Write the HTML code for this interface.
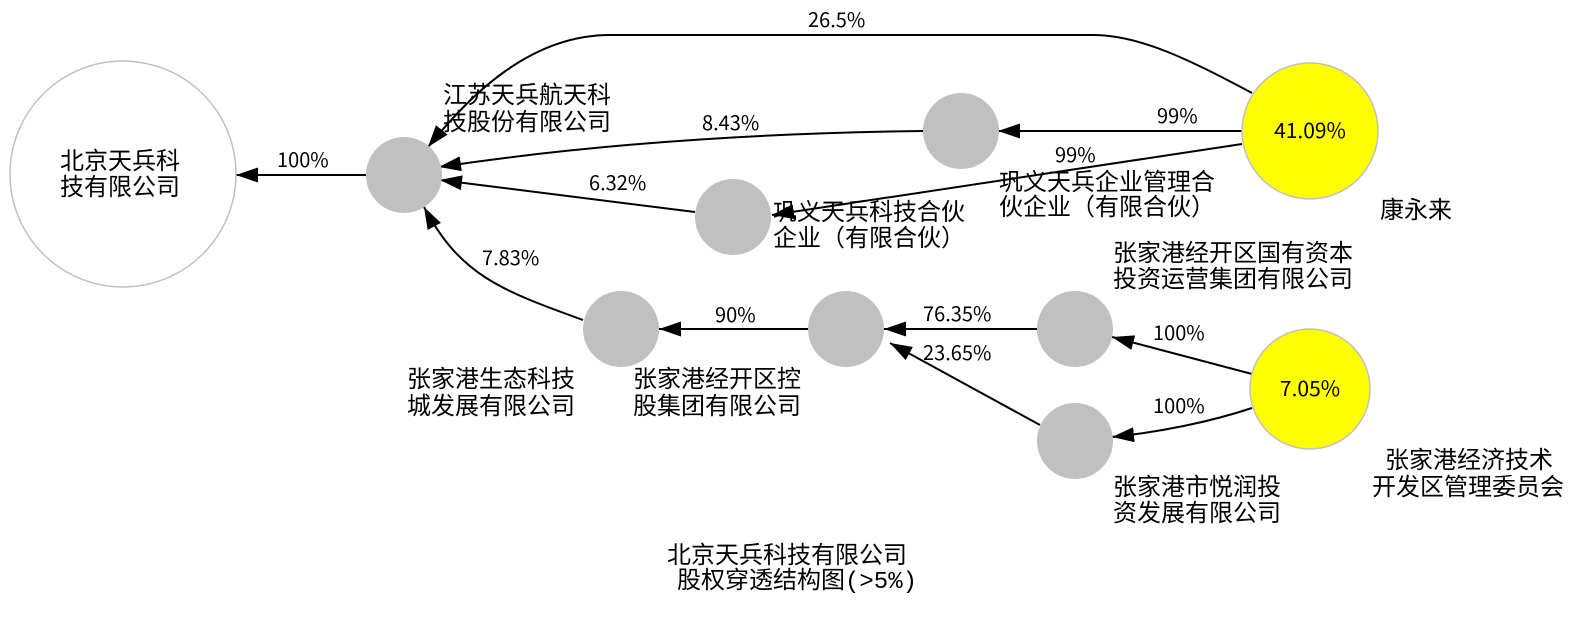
<!DOCTYPE html>
<html><head><meta charset="utf-8"><style>
html,body{margin:0;padding:0;background:#fff;}
svg text{font-family:"Liberation Mono","WenQuanYi Zen Hei","Noto Sans CJK SC",monospace;fill:#000;}
svg g.p text{font-family:"WenQuanYi Zen Hei","Noto Sans CJK SC",sans-serif;}
</style></head><body>
<svg width="1581" height="613" viewBox="0 0 1581 613" xmlns="http://www.w3.org/2000/svg">
<defs><marker id="a" markerWidth="22" markerHeight="15" refX="22" refY="7.5" orient="auto" markerUnits="userSpaceOnUse" viewBox="0 0 22 15"><path d="M0,0 L22,7.5 L0,15 z" fill="#000"/></marker></defs>
<g stroke="#000" stroke-width="2" fill="none">
<line x1="366" y1="175" x2="236" y2="175" marker-end="url(#a)"/>
<path d="M1252,93 C1190,60 1140,35 1093,35 L610,35 C530,35 470,95 428,147" marker-end="url(#a)"/>
<line x1="1242" y1="131" x2="998" y2="131" marker-end="url(#a)"/>
<path d="M923,131 C760,133 600,143 439,167" marker-end="url(#a)"/>
<line x1="1242" y1="144" x2="772" y2="215" marker-end="url(#a)"/>
<line x1="695" y1="212" x2="440" y2="180" marker-end="url(#a)"/>
<path d="M583,320 C500,290 460,275 424,207" marker-end="url(#a)"/>
<line x1="808" y1="329" x2="659" y2="329" marker-end="url(#a)"/>
<line x1="1037" y1="329" x2="884" y2="329" marker-end="url(#a)"/>
<line x1="1040" y1="425" x2="890" y2="343" marker-end="url(#a)"/>
<line x1="1252" y1="374" x2="1112" y2="337" marker-end="url(#a)"/>
<path d="M1252,408 C1210,422 1160,432 1112,437" marker-end="url(#a)"/>
</g>
<g>
<circle cx="123" cy="174" r="113" fill="#fff" stroke="#c0c0c0" stroke-width="1.5"/>
<circle cx="404" cy="175" r="38" fill="#c0c0c0"/>
<circle cx="961" cy="131" r="38" fill="#c0c0c0"/>
<circle cx="733" cy="217" r="38" fill="#c0c0c0"/>
<circle cx="621" cy="329" r="38" fill="#c0c0c0"/>
<circle cx="846" cy="329" r="38" fill="#c0c0c0"/>
<circle cx="1075" cy="329" r="38" fill="#c0c0c0"/>
<circle cx="1075" cy="441" r="38" fill="#c0c0c0"/>
<circle cx="1310" cy="131" r="68" fill="#ffff00" stroke="#c0c0c0" stroke-width="1.5"/>
<circle cx="1310" cy="389" r="60" fill="#ffff00" stroke="#c0c0c0" stroke-width="1.5"/>
</g>
<g font-size="24">
<text x="60" y="169">北京天兵科</text>
<text x="60" y="195">技有限公司</text>
<text x="443" y="103">江苏天兵航天科</text>
<text x="443" y="130">技股份有限公司</text>
<text x="773" y="220">巩义天兵科技合伙</text>
<text x="773" y="246">企业（有限合伙）</text>
<text x="999" y="190">巩义天兵企业管理合</text>
<text x="999" y="215">伙企业（有限合伙）</text>
<text x="1380" y="218">康永来</text>
<text x="1113" y="261">张家港经开区国有资本</text>
<text x="1113" y="287">投资运营集团有限公司</text>
<text x="407" y="387">张家港生态科技</text>
<text x="407" y="414">城发展有限公司</text>
<text x="633" y="387">张家港经开区控</text>
<text x="633" y="414">股集团有限公司</text>
<text x="1113" y="495">张家港市悦润投</text>
<text x="1113" y="521">资发展有限公司</text>
<text x="1385" y="468">张家港经济技术</text>
<text x="1372" y="495">开发区管理委员会</text>
<text x="667" y="563">北京天兵科技有限公司</text>
<text x="677" y="588">股权穿透结构图(&gt;5%)</text>
</g>
<g class="p" font-size="21" text-anchor="middle">
<text x="1310" y="138">41.09%</text>
<text x="1310" y="396">7.05%</text>
</g>
<g class="p" font-size="20">
<text x="277" y="167">100%</text>
<text x="808" y="27">26.5%</text>
<text x="1157" y="123">99%</text>
<text x="702" y="130">8.43%</text>
<text x="1055" y="162">99%</text>
<text x="589" y="190">6.32%</text>
<text x="482" y="265">7.83%</text>
<text x="715" y="322">90%</text>
<text x="923" y="321">76.35%</text>
<text x="923" y="360">23.65%</text>
<text x="1153" y="340">100%</text>
<text x="1153" y="413">100%</text>
</g>
</svg>
</body></html>
